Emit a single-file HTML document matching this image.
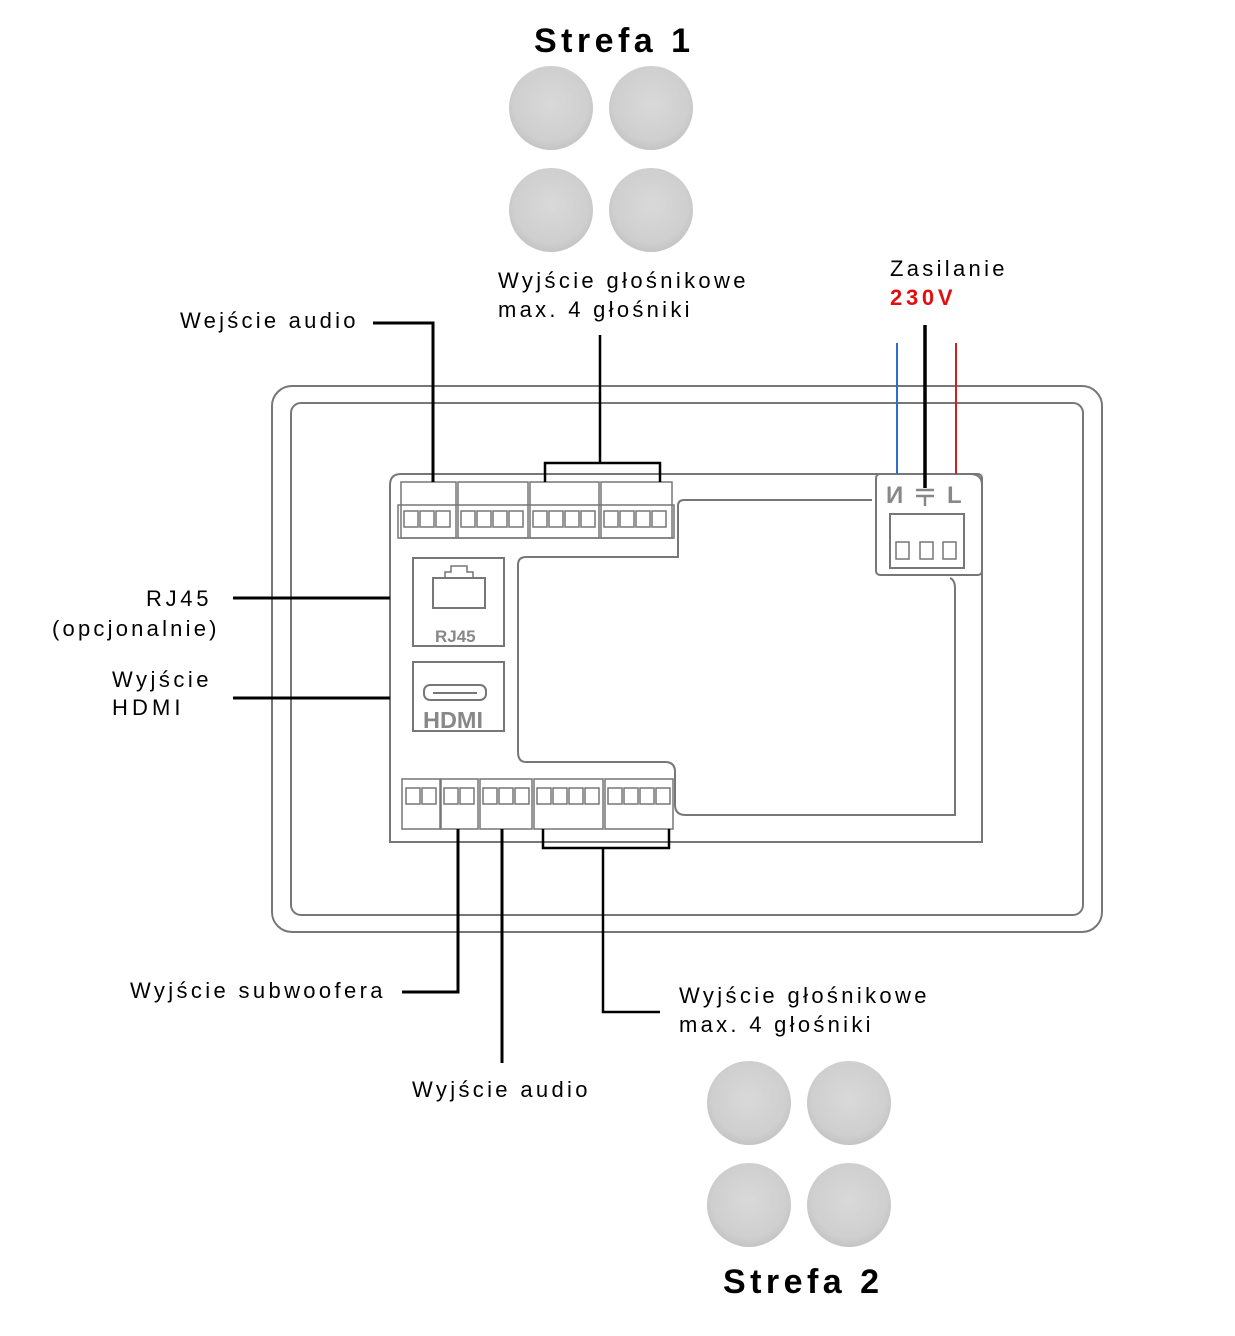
<!DOCTYPE html>
<html><head><meta charset="utf-8"><style>html,body{margin:0;padding:0;background:#fff}</style></head>
<body>
<svg width="1235" height="1331" viewBox="0 0 1235 1331" xmlns="http://www.w3.org/2000/svg" font-family="Liberation Sans, sans-serif">
<defs>
<radialGradient id="sp" cx="50%" cy="45%" r="55%"><stop offset="0" stop-color="#d9d9d9"/><stop offset="0.8" stop-color="#cfcfcf"/><stop offset="1" stop-color="#c4c4c4"/></radialGradient>
</defs>
<rect width="1235" height="1331" fill="#fff"/>
<g fill="url(#sp)">
<circle cx="551" cy="108" r="42"/><circle cx="651" cy="108" r="42"/>
<circle cx="551" cy="210" r="42"/><circle cx="651" cy="210" r="42"/>
<circle cx="749" cy="1103" r="42"/><circle cx="849" cy="1103" r="42"/>
<circle cx="749" cy="1205" r="42"/><circle cx="849" cy="1205" r="42"/>
</g>
<g fill="none" stroke="#777" stroke-width="2">
<rect x="272" y="386" width="830" height="546" rx="20"/>
<rect x="291" y="403" width="792" height="512" rx="10"/>
<path d="M390 485 Q390 474 401 474 H970 Q982 474 982 485 V842 H390 Z"/>
<path d="M678 506 Q678 500 684 500 H872 M950 578 Q955 580 955 588 V815 H686 Q675 815 675 805 V772 Q675 762 665 762 H526 Q518 762 518 752 V565 Q518 557 526 557 H678 V506"/>
<rect x="876" y="474" width="106" height="101" rx="4"/>
<rect x="890" y="514" width="74" height="54"/>
<rect x="413" y="558" width="91" height="88"/>
<rect x="413" y="662" width="91" height="69"/>
<rect x="433" y="578" width="52" height="30"/>
<path d="M445 578 V572 H451 V566 H467 V572 H473 V578" stroke-width="1.5"/>
<rect x="424" y="685" width="62" height="15" rx="6"/>
<line x1="433" y1="693" x2="477" y2="693" stroke-width="2"/>
</g>
<g fill="#fff" stroke="#777" stroke-width="1.5">
<rect x="401" y="482" width="55" height="56"/><rect x="458" y="482" width="70" height="56"/>
<rect x="530" y="482" width="69" height="56"/><rect x="601" y="482" width="71" height="56"/>
<rect x="398" y="505" width="276" height="33" fill="none"/>
<rect x="404" y="511" width="14" height="16"/><rect x="420" y="511" width="14" height="16"/><rect x="436" y="511" width="14" height="16"/>
<rect x="461" y="511" width="14" height="16"/><rect x="477" y="511" width="14" height="16"/><rect x="493" y="511" width="14" height="16"/><rect x="509" y="511" width="14" height="16"/>
<rect x="533" y="511" width="14" height="16"/><rect x="549" y="511" width="14" height="16"/><rect x="565" y="511" width="14" height="16"/><rect x="581" y="511" width="14" height="16"/>
<rect x="604" y="511" width="14" height="16"/><rect x="620" y="511" width="14" height="16"/><rect x="636" y="511" width="14" height="16"/><rect x="652" y="511" width="14" height="16"/>
<rect x="896" y="542" width="13" height="17"/><rect x="920" y="542" width="13" height="17"/><rect x="943" y="542" width="13" height="17"/>
<rect x="402" y="779" width="38" height="50"/><rect x="441" y="779" width="37" height="50"/>
<rect x="480" y="779" width="52" height="50"/><rect x="534" y="779" width="69" height="50"/><rect x="605" y="779" width="68" height="50"/>
<rect x="406" y="788" width="14" height="16"/><rect x="422" y="788" width="14" height="16"/>
<rect x="444" y="788" width="14" height="16"/><rect x="460" y="788" width="14" height="16"/>
<rect x="483" y="788" width="14" height="16"/><rect x="499" y="788" width="14" height="16"/><rect x="515" y="788" width="14" height="16"/>
<rect x="537" y="788" width="14" height="16"/><rect x="553" y="788" width="14" height="16"/><rect x="569" y="788" width="14" height="16"/><rect x="585" y="788" width="14" height="16"/>
<rect x="608" y="788" width="14" height="16"/><rect x="624" y="788" width="14" height="16"/><rect x="640" y="788" width="14" height="16"/><rect x="656" y="788" width="14" height="16"/>
</g>
<g fill="#888" font-weight="bold">
<text x="435" y="642" font-size="17">RJ45</text>
<text x="423" y="728" font-size="23" textLength="60" lengthAdjust="spacingAndGlyphs">HDMI</text>
<text x="886" y="503" font-size="24">И</text>
<text x="947" y="503" font-size="24">L</text>
</g>
<g stroke="#888" stroke-width="2.5"><line x1="916" y1="490" x2="934" y2="490"/><line x1="916" y1="496" x2="934" y2="496"/><line x1="925" y1="496" x2="925" y2="506"/></g>
<g fill="none" stroke="#000" stroke-width="3">
<path d="M373 323 H433 V482"/>
<path d="M600 335 V463 M545 482 V463 H660 V482" stroke-width="2.5"/>
<path d="M925 325 V488" stroke-width="3.5"/>
<path d="M233 598 H390"/>
<path d="M233 698 H390"/>
<path d="M458 829 V992 H402"/>
<path d="M502 829 V1063"/>
<path d="M543 829 V848 H669 V829 M603 848 V1012 H660" stroke-width="2.5"/>
</g>
<line x1="897" y1="343" x2="897" y2="474" stroke="#2a6fd0" stroke-width="2"/>
<line x1="956" y1="343" x2="956" y2="474" stroke="#d02020" stroke-width="2"/>
<g font-size="22" fill="#000" letter-spacing="1.5">
<text x="534" y="52" font-size="34" font-weight="bold" textLength="156" letter-spacing="0">Strefa 1</text>
<text x="723" y="1293" font-size="34" font-weight="bold" textLength="156" letter-spacing="0">Strefa 2</text>
<text x="498" y="288" textLength="249">Wyjście głośnikowe</text>
<text x="498" y="317" textLength="193">max. 4 głośniki</text>
<text x="890" y="276" textLength="116">Zasilanie</text>
<text x="890" y="305" fill="#e01010" font-weight="bold" textLength="64">230V</text>
<text x="180" y="328" textLength="177">Wejście audio</text>
<text x="146" y="606" textLength="64">RJ45</text>
<text x="52" y="636" textLength="166">(opcjonalnie)</text>
<text x="112" y="687" textLength="98">Wyjście</text>
<text x="112" y="715" textLength="70">HDMI</text>
<text x="130" y="998" textLength="254">Wyjście subwoofera</text>
<text x="412" y="1097" textLength="177">Wyjście audio</text>
<text x="679" y="1003" textLength="249">Wyjście głośnikowe</text>
<text x="679" y="1032" textLength="193">max. 4 głośniki</text>
</g>
</svg>
</body></html>
